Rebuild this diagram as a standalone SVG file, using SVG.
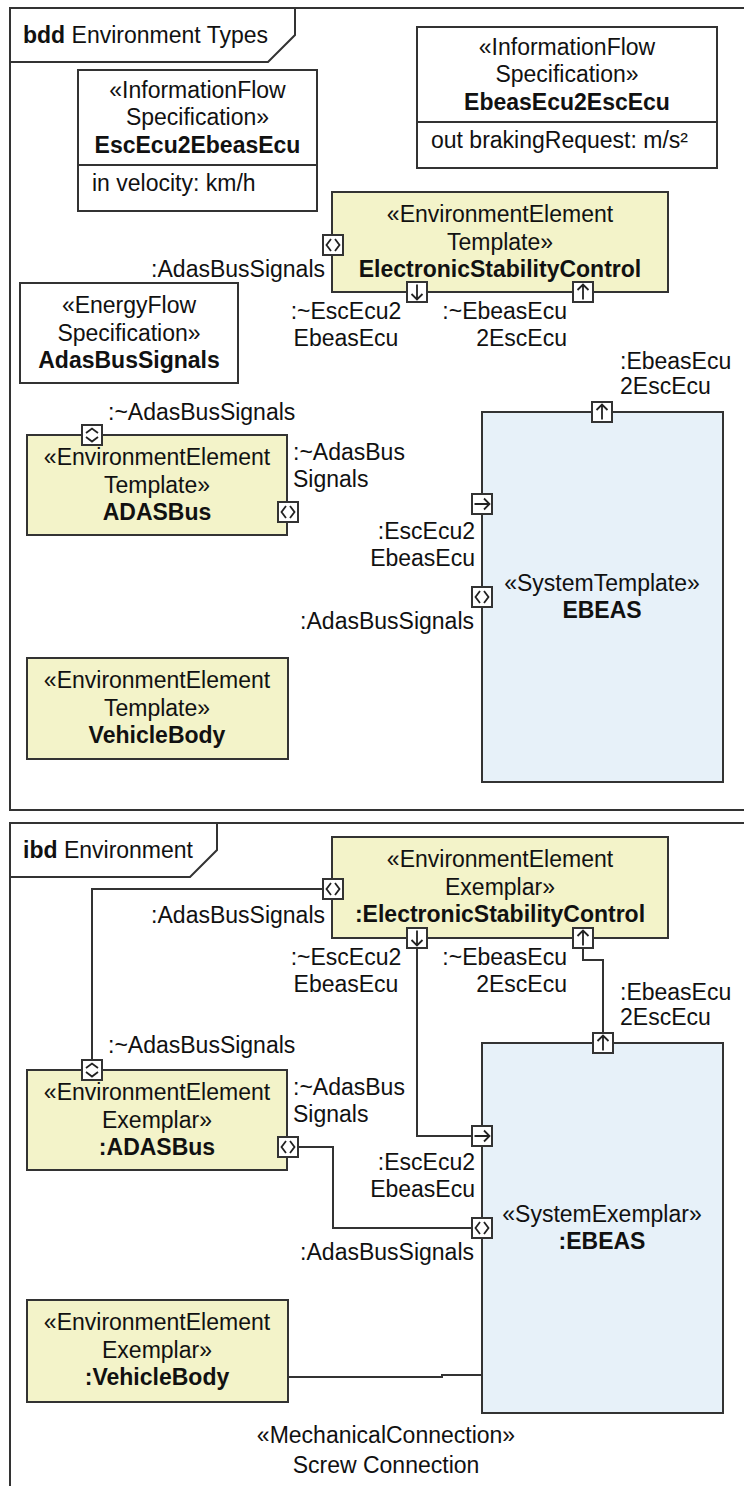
<svg xmlns="http://www.w3.org/2000/svg" xmlns:xlink="http://www.w3.org/1999/xlink" width="744" height="1486" viewBox="0 0 744 1486">
  <style>
    text { font-family: "Liberation Sans", Arial, sans-serif; font-size: 23px; fill: #111; }
    .c { text-anchor: middle; }
    .e { text-anchor: end; }
    .b { font-weight: bold; }
    .frame { fill: none; stroke: #333; stroke-width: 2; }
    .box { fill: #fff; stroke: #333; stroke-width: 2; }
    .env { fill: #F3F3C9; stroke: #333; stroke-width: 2; }
    .sys { fill: #E7F1F9; stroke: #333; stroke-width: 2; }
    .wire { fill: none; stroke: #333; stroke-width: 2; }
    .glyph { fill: none; stroke: #222; stroke-width: 1.8; }
  </style>
  <defs>
    <!-- port symbols, centred on the origin -->
    <g id="pH"><rect x="-10" y="-10" width="20" height="20" class="box"/><path class="glyph" d="M-2,-6 L-6.5,0 L-2,6 M2,-6 L6.5,0 L2,6"/></g>
    <g id="pV"><rect x="-10" y="-10" width="20" height="20" class="box"/><path class="glyph" d="M-6,-2 L0,-6.5 L6,-2 M-6,2 L0,6.5 L6,2"/></g>
    <g id="pDown"><rect x="-10" y="-10" width="20" height="20" class="box"/><path class="glyph" d="M0,-7.5 V7.5 M-5.5,2 L0,7.5 L5.5,2"/></g>
    <g id="pUp"><rect x="-10" y="-10" width="20" height="20" class="box"/><path class="glyph" d="M0,7.5 V-7.5 M-5.5,-2 L0,-7.5 L5.5,-2"/></g>
    <g id="pRight"><rect x="-10" y="-10" width="20" height="20" class="box"/><path class="glyph" d="M-7.5,0 H7.5 M2,-5.5 L7.5,0 L2,5.5"/></g>
  </defs>

  <rect width="744" height="1486" fill="#fff"/>

  <!-- ===== bdd frame ===== -->
  <g id="bdd-frame">
    <rect x="10" y="8" width="750" height="802" class="frame"/>
    <path class="frame" d="M10,62 H268 L295,35 V8"/>
    <text x="23" y="43"><tspan class="b">bdd</tspan> Environment Types</text>
  </g>

  <g id="bdd-EscEcu2EbeasEcu">
    <rect x="78" y="70" width="239" height="141" class="box"/>
    <line x1="78" y1="165" x2="317" y2="165" stroke="#333" stroke-width="2"/>
    <text class="c" x="197.5" y="98">«InformationFlow</text>
    <text class="c" x="197.5" y="125">Specification»</text>
    <text class="c b" x="197.5" y="153">EscEcu2EbeasEcu</text>
    <text x="92" y="191">in velocity: km/h</text>
  </g>

  <g id="bdd-EbeasEcu2EscEcu">
    <rect x="417" y="27" width="300" height="141" class="box"/>
    <line x1="417" y1="122" x2="717" y2="122" stroke="#333" stroke-width="2"/>
    <text class="c" x="567" y="55">«InformationFlow</text>
    <text class="c" x="567" y="82">Specification»</text>
    <text class="c b" x="567" y="110">EbeasEcu2EscEcu</text>
    <text x="431" y="148">out brakingRequest: m/s²</text>
  </g>

  <g id="bdd-AdasBusSignals">
    <rect x="20" y="283" width="218" height="100" class="box"/>
    <text class="c" x="129" y="313">«EnergyFlow</text>
    <text class="c" x="129" y="341">Specification»</text>
    <text class="c b" x="129" y="368">AdasBusSignals</text>
  </g>

  <g id="bdd-ElectronicStabilityControl">
    <rect x="332" y="192" width="336" height="100" class="env"/>
    <text class="c" x="500" y="222">«EnvironmentElement</text>
    <text class="c" x="500" y="250">Template»</text>
    <text class="c b" x="500" y="277">ElectronicStabilityControl</text>
    <use xlink:href="#pH" x="333" y="245"/>
    <use xlink:href="#pDown" x="417" y="292"/>
    <use xlink:href="#pUp" x="583" y="292"/>
    <text class="e" x="325" y="277">:AdasBusSignals</text>
    <text class="c" x="346" y="319">:~EscEcu2</text>
    <text class="c" x="346" y="346">EbeasEcu</text>
    <text class="e" x="567" y="319">:~EbeasEcu</text>
    <text class="e" x="567" y="346">2EscEcu</text>
  </g>

  <g id="bdd-ADASBus">
    <rect x="27" y="435" width="260" height="100" class="env"/>
    <text class="c" x="157" y="465">«EnvironmentElement</text>
    <text class="c" x="157" y="493">Template»</text>
    <text class="c b" x="157" y="520">ADASBus</text>
    <use xlink:href="#pV" x="92" y="435"/>
    <use xlink:href="#pH" x="288" y="512"/>
    <text x="108" y="420">:~AdasBusSignals</text>
    <text x="293" y="460">:~AdasBus</text>
    <text x="293" y="487">Signals</text>
  </g>

  <g id="bdd-VehicleBody">
    <rect x="27" y="658" width="261" height="101" class="env"/>
    <text class="c" x="157" y="688">«EnvironmentElement</text>
    <text class="c" x="157" y="716">Template»</text>
    <text class="c b" x="157" y="743">VehicleBody</text>
  </g>

  <g id="bdd-EBEAS">
    <rect x="482" y="412" width="241" height="370" class="sys"/>
    <text class="c" x="602" y="591">«SystemTemplate»</text>
    <text class="c b" x="602" y="618">EBEAS</text>
    <use xlink:href="#pUp" x="602" y="412"/>
    <use xlink:href="#pRight" x="482" y="504"/>
    <use xlink:href="#pH" x="482" y="597"/>
    <text x="620" y="369">:EbeasEcu</text>
    <text x="620" y="394">2EscEcu</text>
    <text class="e" x="475" y="539">:EscEcu2</text>
    <text class="e" x="475" y="566">EbeasEcu</text>
    <text class="e" x="474" y="629">:AdasBusSignals</text>
  </g>

  <!-- ===== ibd frame ===== -->
  <g id="ibd-frame">
    <rect x="10" y="823" width="750" height="700" class="frame"/>
    <path class="frame" d="M10,877 H190 L217,850 V823"/>
    <text x="23" y="858"><tspan class="b">ibd</tspan> Environment</text>
  </g>

  <!-- connectors of the internal block diagram -->
  <g id="connectors">
    <polyline class="wire" points="92,1060 92,889 323,889"/>
    <polyline class="wire" points="417,948 417,1136 472,1136"/>
    <polyline class="wire" points="583,948 583,960 603,960 603,1033"/>
    <polyline class="wire" points="298,1147 333,1147 333,1228 472,1228"/>
    <polyline class="wire" points="288,1377 442,1377 442,1375 482,1375"/>
  </g>

  <g id="ibd-ElectronicStabilityControl">
    <rect x="332" y="837" width="336" height="101" class="env"/>
    <text class="c" x="500" y="867">«EnvironmentElement</text>
    <text class="c" x="500" y="895">Exemplar»</text>
    <text class="c b" x="500" y="922">:ElectronicStabilityControl</text>
    <use xlink:href="#pH" x="333" y="889"/>
    <use xlink:href="#pDown" x="417" y="938"/>
    <use xlink:href="#pUp" x="583" y="938"/>
    <text class="e" x="325" y="923">:AdasBusSignals</text>
    <text class="c" x="346" y="965">:~EscEcu2</text>
    <text class="c" x="346" y="992">EbeasEcu</text>
    <text class="e" x="567" y="965">:~EbeasEcu</text>
    <text class="e" x="567" y="992">2EscEcu</text>
  </g>

  <g id="ibd-ADASBus">
    <rect x="27" y="1070" width="260" height="100" class="env"/>
    <text class="c" x="157" y="1100">«EnvironmentElement</text>
    <text class="c" x="157" y="1128">Exemplar»</text>
    <text class="c b" x="157" y="1155">:ADASBus</text>
    <use xlink:href="#pV" x="92" y="1070"/>
    <use xlink:href="#pH" x="288" y="1147"/>
    <text x="108" y="1053">:~AdasBusSignals</text>
    <text x="293" y="1095">:~AdasBus</text>
    <text x="293" y="1122">Signals</text>
  </g>

  <g id="ibd-VehicleBody">
    <rect x="27" y="1300" width="261" height="102" class="env"/>
    <text class="c" x="157" y="1330">«EnvironmentElement</text>
    <text class="c" x="157" y="1358">Exemplar»</text>
    <text class="c b" x="157" y="1385">:VehicleBody</text>
  </g>

  <g id="ibd-EBEAS">
    <rect x="482" y="1043" width="241" height="370" class="sys"/>
    <text class="c" x="602" y="1222">«SystemExemplar»</text>
    <text class="c b" x="602" y="1249">:EBEAS</text>
    <use xlink:href="#pUp" x="603" y="1043"/>
    <use xlink:href="#pRight" x="482" y="1136"/>
    <use xlink:href="#pH" x="482" y="1228"/>
    <text x="620" y="1000">:EbeasEcu</text>
    <text x="620" y="1025">2EscEcu</text>
    <text class="e" x="475" y="1170">:EscEcu2</text>
    <text class="e" x="475" y="1197">EbeasEcu</text>
    <text class="e" x="474" y="1260">:AdasBusSignals</text>
  </g>

  <g id="screw-connection-label">
    <text class="c" x="386" y="1443">«MechanicalConnection»</text>
    <text class="c" x="386" y="1473">Screw Connection</text>
  </g>
</svg>
